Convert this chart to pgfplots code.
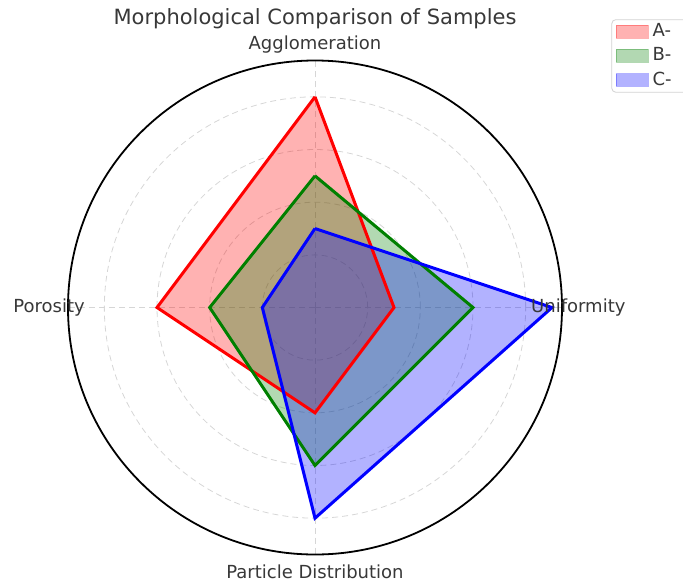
\documentclass[border=0pt]{standalone}
\usepackage{pgfplots}
\pgfplotsset{compat=1.18}
\usepgfplotslibrary{polar}
\usepackage{fontspec}
\setmainfont{DejaVu Sans}
\definecolor{mplgreen}{rgb}{0,0.5,0}
\definecolor{txt}{gray}{0.22}
\begin{document}
\begin{tikzpicture}
\useasboundingbox (-157.5pt,-137.75pt) rectangle (184pt,153.75pt);
\begin{polaraxis}[
  at={(0,0)}, anchor=center,
  width=247pt, height=247pt, scale only axis,
  ymin=0, ymax=4.69,
  xtick={0,90,180,270}, xticklabels={},
  ytick={1,2,3,4}, yticklabels={},
  grid=major,
  major grid style={densely dashed, gray!32, line width=0.4pt},
  separate axis lines,
  x axis line style={black, line width=0.9pt},
  y axis line style={draw=none},
  major tick length=0pt,
  clip=false,
  legend image code/.code={\draw[#1, sharp corners] (0pt,-3.2pt) rectangle (16pt,3.2pt);},
  legend style={at={(1.10,1.0835)}, anchor=north west, draw=gray!35, rounded corners=2pt,
    font=\fontsize{9}{11}\selectfont, text=txt, inner xsep=2pt, inner ysep=0pt,
    row sep=0pt, cells={anchor=west}},
]
% fills
\addplot[fill=red, fill opacity=0.3, draw=red, draw opacity=0.3] coordinates {(90,4) (180,3) (270,2) (360,1.5) (450,4)};
\addlegendentry{\makebox[40pt][l]{A-}}
\addplot[fill=mplgreen, fill opacity=0.3, draw=mplgreen, draw opacity=0.3] coordinates {(90,2.5) (180,2) (270,3) (360,3) (450,2.5)};
\addlegendentry{\makebox[40pt][l]{B-}}
\addplot[fill=blue, fill opacity=0.3, draw=blue, draw opacity=0.3] coordinates {(90,1.5) (180,1) (270,4) (360,4.5) (450,1.5)};
\addlegendentry{\makebox[40pt][l]{C-}}
% outlines
\addplot[red, line width=1.5pt, forget plot] coordinates {(90,4) (180,3) (270,2) (360,1.5) (450,4)};
\addplot[mplgreen, line width=1.5pt, forget plot] coordinates {(90,2.5) (180,2) (270,3) (360,3) (450,2.5)};
\addplot[blue, line width=1.5pt, forget plot] coordinates {(90,1.5) (180,1) (270,4) (360,4.5) (450,1.5)};
% category labels
\node[font=\fontsize{9}{11}\selectfont, text=txt] at (axis cs:90,5.0) {Agglomeration};
\node[font=\fontsize{9}{11}\selectfont, text=txt] at (axis cs:180,5.05) {Porosity};
\node[font=\fontsize{9}{11}\selectfont, text=txt] at (axis cs:270,5.02) {Particle Distribution};
\node[font=\fontsize{9}{11}\selectfont, text=txt] at (axis cs:0,5.0) {Uniformity};
\node[font=\fontsize{10.5}{12}\selectfont, text=txt] at (axis cs:90,5.48) {Morphological Comparison of Samples};
\end{polaraxis}
\end{tikzpicture}
\end{document}
